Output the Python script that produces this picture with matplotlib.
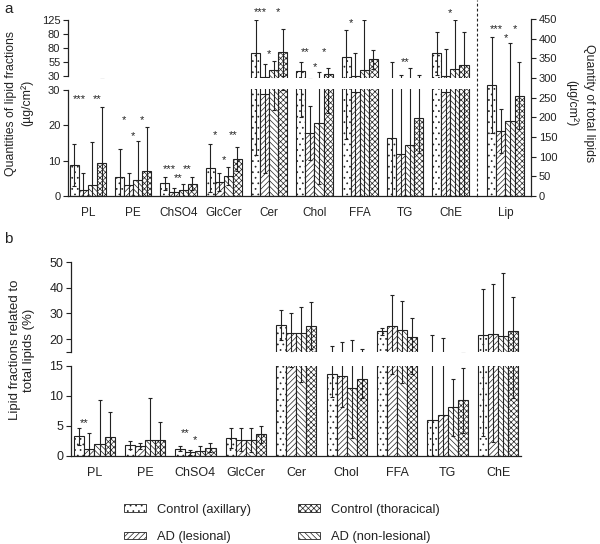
import numpy as np
import matplotlib.pyplot as plt
from matplotlib.patches import Patch

plt.rcParams['font.family'] = ['Liberation Sans', 'DejaVu Sans']
plt.rcParams['hatch.linewidth'] = 0.5
plt.rcParams['axes.linewidth'] = 0.9

INK = '#222222'

series_names = ["Control (axillary)", "AD (lesional)", "AD (non-lesional)", "Control (thoracical)"]
series_hatch = ['...', '//////', '\\\\\\\\\\\\', 'xxxxxx']

# panel a: quantities of lipid fractions (µg/cm²)
cats_a = ["PL", "PE", "ChSO4", "GlcCer", "Cer", "Chol", "FFA", "TG", "ChE"]
a_ctrl_ax = [8.8, 5.4, 3.6, 7.9, 70.5, 38.9, 64.5, 16.3, 70.5]
a_ad_les = [1.8, 3.0, 1.0, 4.0, 29.0, 17.8, 29.5, 12.0, 29.5]
a_ad_non = [3.2, 4.5, 1.6, 5.7, 40.7, 20.6, 40.7, 14.5, 42.0]
a_ctrl_th = [9.3, 7.1, 3.5, 10.5, 72.3, 33.6, 59.8, 22.0, 49.6]
a_sd_ctrl_ax = [5.9, 7.8, 1.9, 6.8, 59.0, 16.6, 48.5, 39.2, 38.5]
a_sd_ad_les = [4.8, 3.5, 1.2, 2.5, 22.4, 7.7, 42.0, 19.8, 48.2]
a_sd_ad_non = [12.1, 11.0, 1.8, 2.5, 16.3, 17.1, 88.8, 29.5, 87.5]
a_sd_ctrl_th = [15.9, 12.4, 1.8, 3.4, 42.2, 10.1, 16.6, 9.8, 59.4]

# total lipids (right axis)
lip_mean = [282, 165, 190, 255]
lip_sd = [121, 55, 198, 85]

# significance marks: (category, bar index, text, height)
a_stars = [
    ("PL", 1, "***", 27.5), ("PL", 3, "**", 27.5),
    ("PE", 1, "*", 21.5), ("PE", 2, "*", 17.0), ("PE", 3, "*", 21.5),
    ("ChSO4", 1, "***", 7.6), ("ChSO4", 2, "**", 5.2), ("ChSO4", 3, "**", 7.6),
    ("GlcCer", 1, "*", 17.3), ("GlcCer", 2, "*", 10.2), ("GlcCer", 3, "**", 17.3),
    ("Cer", 1, "***", 144), ("Cer", 2, "*", 69), ("Cer", 3, "*", 144),
    ("Chol", 1, "**", 73), ("Chol", 2, "*", 46), ("Chol", 3, "*", 73),
    ("FFA", 1, "*", 124.6),
    ("TG", 2, "**", 55),
    ("ChE", 2, "*", 143),
]
lip_stars = [(1, "***", 425), (2, "*", 402), (3, "*", 425)]

# panel b: fractions related to total lipids (%)
cats_b = cats_a
b_ctrl_ax = [3.3, 1.8, 1.2, 3.0, 25.6, 13.6, 23.0, 6.0, 21.5]
b_ad_les = [1.2, 1.7, 0.6, 2.7, 22.4, 13.4, 25.3, 6.9, 21.9]
b_ad_non = [2.0, 2.7, 0.8, 2.7, 22.4, 11.4, 23.5, 8.1, 21.4]
b_ctrl_th = [3.2, 2.7, 1.4, 3.6, 25.3, 12.9, 21.0, 9.3, 23.0]
b_sd_ctrl_ax = [1.4, 0.7, 0.4, 1.6, 5.9, 3.8, 1.5, 15.8, 18.1]
b_sd_ad_les = [2.6, 0.5, 0.4, 1.9, 7.6, 5.3, 11.7, 13.7, 19.5]
b_sd_ad_non = [7.4, 6.9, 0.9, 2.0, 10.0, 8.4, 11.4, 4.7, 24.2]
b_sd_ctrl_th = [4.2, 3.0, 0.8, 1.4, 9.2, 3.3, 7.3, 5.4, 13.4]
b_stars = [("PL", 1, "**", 5.5), ("ChSO4", 1, "**", 3.8), ("ChSO4", 2, "*", 2.6)]

W, H = 600, 544
BW = 0.2
fig = plt.figure(figsize=(W / 100, H / 100), dpi=100)


def px_axes(x0, y0, x1, y1):
    ax = fig.add_axes([x0 / W, 1 - y1 / H, (x1 - x0) / W, (y1 - y0) / H])
    ax.patch.set_alpha(0)
    for s in ax.spines.values():
        s.set_visible(False)
        s.set_color(INK)
    ax.tick_params(length=3.5, width=0.8, labelsize=8, pad=2, colors=INK)
    return ax


def draw_bars(ax, centers, means, sds):
    for k, (m, s) in enumerate(zip(means, sds)):
        x = np.asarray(centers, float) + (k - 1.5) * BW
        ax.bar(x, m, BW, color='white', edgecolor=INK, hatch=series_hatch[k],
               linewidth=0.8, zorder=2)
        ax.errorbar(x, m, yerr=s, fmt='none', ecolor=INK, elinewidth=0.8,
                    capsize=1.6, capthick=0.8, zorder=3)


def star(ax, xc, k, txt, y):
    ax.text(xc + (k - 1.5) * BW - 0.1, y, txt, ha='center', va='center',
            fontsize=8, color=INK, clip_on=False)


# ---------- panel a ----------
xa = np.arange(len(cats_a))
means_a = [a_ctrl_ax, a_ad_les, a_ad_non, a_ctrl_th]
sds_a = [a_sd_ctrl_ax, a_sd_ad_les, a_sd_ad_non, a_sd_ctrl_th]

ax_hi = px_axes(68, 20, 477, 78)
ax_lo = px_axes(68, 89, 477, 196)
ax_lip = px_axes(477, 19, 531, 196)

for ax in (ax_hi, ax_lo):
    draw_bars(ax, xa, means_a, sds_a)
    ax.set_xlim(-0.44, 8.587)
    ax.spines['left'].set_visible(True)

ax_hi.set_ylim(26.4, 130)
ax_hi.spines['left'].set_bounds(30, 130)
ax_hi.set_yticks([30, 55, 80, 105, 130])
ax_hi.set_yticklabels(['30', '55', '80', '80', '125'])
ax_hi.set_xticks([])

ax_lo.set_ylim(0, 30.3)
ax_lo.spines['left'].set_bounds(0, 30)
ax_lo.spines['bottom'].set_visible(True)
ax_lo.set_yticks([0, 10, 20, 30])
ax_lo.set_xticks(xa)
ax_lo.set_xticklabels(cats_a)
ax_lo.tick_params(axis='x', length=0, pad=8, labelsize=8.5)

for cat, k, txt, y in a_stars:
    i = cats_a.index(cat)
    star(ax_lo if y <= 30 else ax_hi, i, k, txt, y)

lip_x = 9.216
draw_bars(ax_lip, [lip_x], [[v] for v in lip_mean], [[v] for v in lip_sd])
ax_lip.set_xlim(8.587, 9.779)
ax_lip.set_ylim(0, 450)
ax_lip.spines['right'].set_visible(True)
ax_lip.spines['bottom'].set_visible(True)
ax_lip.yaxis.tick_right()
ax_lip.set_yticks(np.arange(0, 451, 50))
ax_lip.set_xticks([lip_x])
ax_lip.set_xticklabels(['Lip'])
ax_lip.tick_params(axis='x', length=0, pad=8, labelsize=8.5)
ax_lip.axvline(8.587, ymin=0, ymax=1.107, color=INK, lw=0.8, ls=(0, (2.5, 2)), clip_on=False)
for k, txt, y in lip_stars:
    star(ax_lip, lip_x, k, txt, y)

fig.text(19 / W, 1 - 103 / H, "Quantities of lipid fractions\n(µg/cm²)", rotation=90,
         ha='center', va='center', fontsize=8.8, color=INK, multialignment='center',
         linespacing=1.35)
fig.text(580 / W, 1 - 103 / H, "Quantity of total lipids\n(µg/cm²)", rotation=-90,
         ha='center', va='center', fontsize=8.8, color=INK, multialignment='center',
         linespacing=1.45)
fig.text(4 / W, 1 - 9 / H, "a", fontsize=11, ha='left', va='center', color=INK)

# ---------- panel b ----------
xb = np.arange(len(cats_b))
means_b = [b_ctrl_ax, b_ad_les, b_ad_non, b_ctrl_th]
sds_b = [b_sd_ctrl_ax, b_sd_ad_les, b_sd_ad_non, b_sd_ctrl_th]

bx_hi = px_axes(71, 262, 521, 352)
bx_lo = px_axes(71, 366, 521, 456)
for ax in (bx_hi, bx_lo):
    draw_bars(ax, xb, means_b, sds_b)
    ax.set_xlim(-0.465, 8.455)
    ax.spines['left'].set_visible(True)

bx_hi.set_ylim(15, 50)
bx_hi.set_yticks([15, 20, 30, 40, 50])
bx_hi.set_yticklabels(['', '20', '30', '40', '50'])
bx_hi.set_xticks([])
bx_hi.tick_params(axis='y', labelsize=9)

bx_lo.set_ylim(0, 15)
bx_lo.set_yticks([0, 5, 10, 15])
bx_lo.spines['bottom'].set_visible(True)
bx_lo.set_xticks(xb)
bx_lo.set_xticklabels(cats_b)
bx_lo.tick_params(axis='x', length=0, pad=8, labelsize=9)
bx_lo.tick_params(axis='y', labelsize=9)

for cat, k, txt, y in b_stars:
    star(bx_lo, cats_b.index(cat), k, txt, y)

fig.text(22 / W, 1 - 350 / H, "Lipid fractions related to\ntotal lipids (%)", rotation=90,
         ha='center', va='center', fontsize=9.5, color=INK, multialignment='center',
         linespacing=1.3)
fig.text(4 / W, 1 - 239 / H, "b", fontsize=11, ha='left', va='center', color=INK)

# ---------- legend ----------
order = [0, 1, 3, 2]
handles = [Patch(facecolor='white', edgecolor=INK, hatch=series_hatch[i], linewidth=0.6)
           for i in order]
fig.legend(handles, [series_names[i] for i in order], ncol=2, frameon=False,
           loc='upper left', bbox_to_anchor=(112 / W, 1 - 492 / H), fontsize=9.3,
           handlelength=1.75, handleheight=0.55, handletextpad=0.85,
           labelspacing=1.2, columnspacing=3.6, labelcolor=INK)

fig.savefig('out.png', dpi=100)
